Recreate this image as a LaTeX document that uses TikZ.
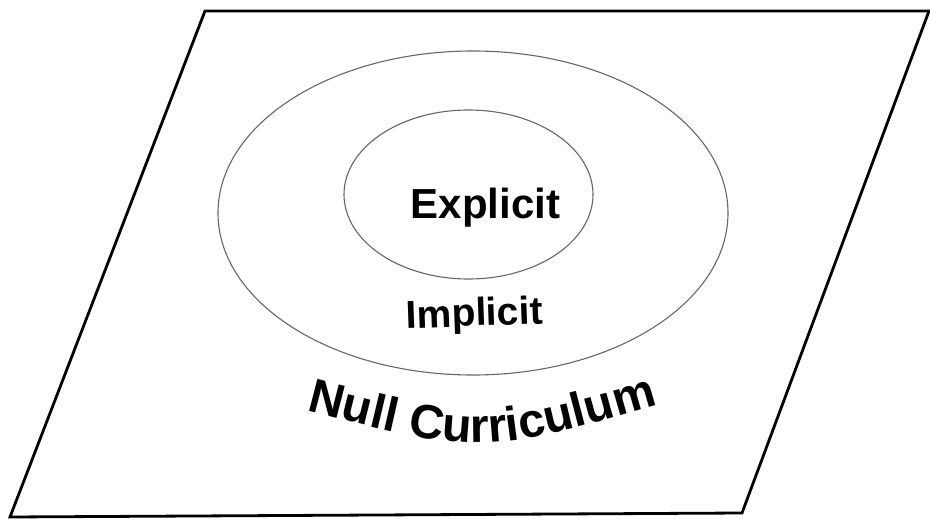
\documentclass[tikz,border=0pt]{standalone}
\usepackage{fontspec}
\setmainfont{Liberation Sans}
\usetikzlibrary{decorations.text}
\begin{document}
\begin{tikzpicture}[x=1pt,y=1pt,
  frame/.style={draw=black,line width=2.8pt,line join=miter},
  ring/.style={draw=black!60,line width=1.1pt},
  label/.style={font=\bfseries,text=black,inner sep=0pt}]
\useasboundingbox (0,0) rectangle (930,-519);
% the plane
\draw[frame] (205,-11) -- (929,-11) -- (742,-513) -- (10,-517) -- cycle;
% nested curricula
\draw[ring] (473,-213) ellipse [x radius=255,y radius=162];
\draw[ring] (468.5,-194.5) ellipse [x radius=124.5,y radius=84.5];
\node[label,anchor=base,font=\fontsize{42}{42}\selectfont\bfseries] (explicit) at (485.5,-218) {Explicit};
\node[label,anchor=base,rotate=2,font=\fontsize{39}{39}\selectfont\bfseries] (implicit) at (475,-326) {Implicit};
% curved caption below the rings
\path[decorate,decoration={text along path,text align=center,
  text={|\fontsize{48}{48}\selectfont\bfseries|Null Curriculum}}]
  (290,-406) .. controls (481,-456) .. (674,-400);
\end{tikzpicture}
\end{document}
